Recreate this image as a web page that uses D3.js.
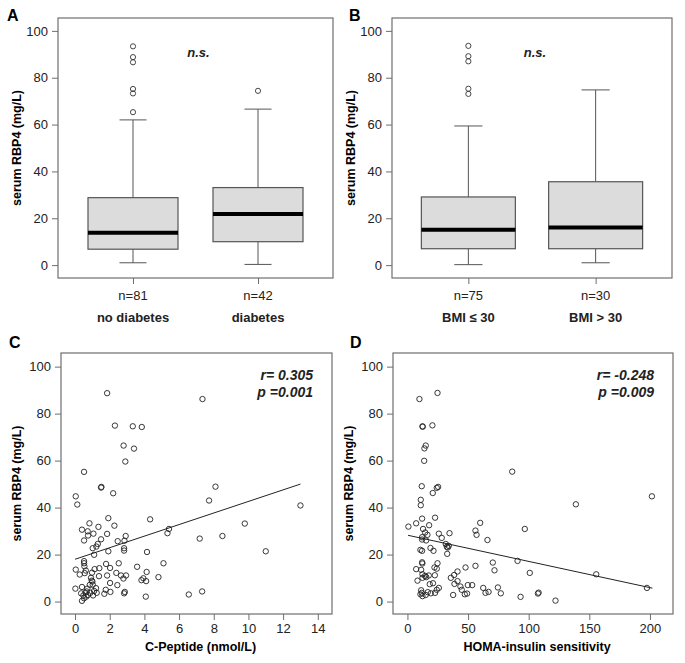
<!DOCTYPE html>
<meta charset="utf-8">
<style>
  body { margin: 0; background: #fff; }
  svg { font-family: "Liberation Sans", Arial, sans-serif; }
  .frame { fill: none; stroke: #6e6e6e; stroke-width: 1.2; }
  .tick line { stroke: #6e6e6e; }
  .lbl { font-size: 13px; fill: #222; }
  .bold { font-weight: bold; }
</style>
<script src="https://d3js.org/d3.v7.min.js"></script>
<body>
<script>

// box plot stats: [low whisker, Q1, median, Q3, high whisker]
var groupsA = ["no diabetes", "diabetes"];
var countsA = ["n=81", "n=42"];
var statsA = [[1.0, 6.8, 13.8, 28.8, 62.0], [0.3, 10.0, 21.8, 33.1, 66.6]];
var outliersA = [[65.3, 73.3, 75.2, 86.6, 88.8, 93.4], [74.4]];

var groupsB = ["BMI \u2264 30", "BMI > 30"];
var countsB = ["n=75", "n=30"];
var statsB = [[0.2, 7.0, 15.1, 29.1, 59.4], [1.0, 7.0, 16.1, 35.6, 74.8]];
var outliersB = [[73.1, 75.3, 87.0, 89.2, 93.6], []];

var yTicks = [0, 20, 40, 60, 80, 100];

// C-peptide vs RBP4
var cX = [1.85, 7.35, 2.3, 3.33, 3.85, 2.8, 3.4, 2.9, 0.52, 1.52, 1.5, 8.1, 2.2, 0.04, 0.13, 7.73, 13.0,
  4.33, 1.92, 9.79, 0.83, 1.35, 2.27, 0.4, 0.73, 5.42, 5.33, 1.06, 1.85, 2.92, 0.75, 7.19, 8.5, 0.52,
  1.5, 2.46, 2.85, 1.31, 1.23, 1.02, 2.83, 2.83, 1.92, 4.15, 11.0, 1.1, 0.52, 0.52, 1.79, 2.52, 0.54,
  5.1, 0.04, 0.62, 1.13, 1.4, 2.02, 3.58, 0.27, 0.56, 0.98, 1.85, 1.38, 2.38, 2.65, 2.94, 4.13, 0.92,
  0.96, 2.79, 3.83, 4.1, 3.94, 4.81, 2.02, 0.85, 1.02, 2.44, 0.02, 0.4, 0.71, 1.21, 1.77, 1.1, 0.67,
  2.04, 0.35, 0.6, 0.88, 1.25, 1.69, 2.83, 2.87, 6.56, 7.33, 0.48, 0.75, 1.04, 4.08, 0.4, 0.65, 0.52, 1.0];
var cY = [88.7, 86.2, 74.9, 74.6, 74.3, 66.4, 65.1, 59.6, 55.2, 48.8, 48.5, 48.9, 46.1, 44.8, 41.3, 43.0, 40.9,
  35.0, 35.5, 33.2, 33.3, 31.8, 32.3, 30.6, 29.9, 30.9, 29.1, 28.9, 28.8, 27.9, 28.1, 26.8, 27.9, 26.0,
  26.5, 25.7, 25.9, 24.5, 23.4, 22.7, 22.7, 21.7, 21.4, 21.1, 21.4, 19.9, 17.2, 16.3, 16.0, 16.3, 15.0,
  16.3, 13.6, 13.2, 13.8, 14.2, 14.3, 14.8, 11.5, 12.1, 12.3, 11.1, 10.8, 12.2, 11.1, 11.1, 12.6, 10.1,
  8.9, 9.8, 9.1, 8.7, 9.9, 10.4, 7.9, 7.1, 7.2, 7.0, 5.5, 6.2, 5.5, 5.7, 5.0, 4.5, 4.3,
  4.1, 3.5, 3.8, 3.7, 3.7, 3.3, 3.5, 4.1, 3.0, 4.3, 2.6, 2.8, 2.6, 2.1, 0.3, 2.1, 1.4, 8.5];
var cFit = [[0, 18.0], [13, 50.0]];
var cTicks = [0, 2, 4, 6, 8, 10, 12, 14];

// HOMA-insulin sensitivity vs RBP4
var dX = [9.9, 24.8, 12.4, 12.6, 20.6, 15.1, 14.0, 13.8, 86.4, 11.8, 25.3, 24.2, 20.9, 201.6, 11.0, 11.0, 138.9,
  12.1, 22.8, 0.8, 7.2, 17.9, 60, 12.9, 96.8, 56.1, 57, 14.6, 25.9, 34.7, 16.5, 12.1, 28.3, 12.1, 15.4,
  66, 31.6, 34.1, 32.5, 33.3, 32.8, 19, 10.7, 12.1, 21.5, 90.8, 70.4, 12.1, 12.3, 24.8, 7.2, 11.3, 22.3,
  24.2, 71.8, 47.9, 56.1, 12.4, 14.6, 22.6, 41.3, 38.5, 100.9, 155.7, 8.3, 12.4, 15.5, 17.6, 18.4, 21.1,
  41.3, 35.8, 38.8, 43.7, 53.4, 49.8, 62.5, 74.6, 25.9, 24.2, 11.3, 11.8, 10.7, 16.8, 19.3, 22.8, 37.7,
  44.8, 47.3, 49.2, 64.4, 66.9, 77, 93.3, 107.6, 108.2, 122.1, 197.5, 12.4, 15.1];
var dY = [86.2, 88.8, 74.6, 74.4, 75.0, 66.4, 65.2, 59.9, 55.3, 49.1, 48.8, 48.4, 46.2, 44.8, 43.3, 41.0, 41.4,
  35.3, 35.7, 31.9, 33.3, 32.5, 33.5, 30.9, 30.9, 30.2, 28.4, 29.4, 28.9, 29.1, 28.4, 27.4, 27.1, 26.4, 26.0,
  26.2, 24.5, 23.7, 23.3, 23.0, 20.3, 22.8, 22.0, 21.6, 21.6, 17.3, 16.6, 16.7, 16.2, 16.3, 13.8, 13.5, 14.5,
  14.0, 13.3, 14.5, 15.2, 11.6, 10.9, 11.2, 12.8, 11.3, 12.2, 11.6, 8.9, 10.1, 10.4, 11.1, 7.4, 7.8,
  8.7, 10.1, 7.5, 6.4, 7.0, 7.0, 5.8, 6.0, 5.8, 5.0, 4.8, 3.7, 3.1, 4.0, 3.5, 3.7, 2.8,
  5.0, 3.1, 3.4, 3.7, 4.1, 3.5, 2.0, 3.4, 3.8, 0.4, 5.8, 2.3, 2.8];
var dFit = [[0.5, 28.2], [202, 5.7]];
var dTicks = [0, 50, 100, 150, 200];

var svg = d3.select("body").append("svg")
    .attr("width", 685)
    .attr("height", 663);

function panelLetter(t, x, y) {
  svg.append("text").attr("x", x).attr("y", y)
    .attr("class", "bold").attr("font-size", 16).text(t);
}

function yAxis(y, left, titleX) {
  var g = svg.append("g").attr("transform", "translate(" + left + ",0)");
  g.call(d3.axisLeft(y).tickValues(yTicks).tickSize(6).tickPadding(4).tickSizeOuter(0));
  g.select(".domain").remove();
  g.selectAll(".tick text").attr("class", "lbl").attr("font-size", 13)
    .attr("font-family", "Liberation Sans, Arial, sans-serif");
  var mid = (y.range()[0] + y.range()[1]) / 2;
  svg.append("text")
    .attr("transform", "translate(" + titleX + "," + mid + ") rotate(-90)")
    .attr("text-anchor", "middle").attr("class", "bold")
    .attr("font-size", 12.5).text("serum RBP4 (mg/L)");
}

function frame(x0, x1, y0, y1) {
  svg.append("rect").attr("class", "frame")
    .attr("x", x0).attr("y", y0).attr("width", x1 - x0).attr("height", y1 - y0);
}

function boxPanel(opt) {
  var y = d3.scaleLinear().domain([-5.5, 105.5]).range([opt.bottom, opt.top]);
  var x = d3.scalePoint().domain(opt.groups).range([opt.left, opt.right]).padding(0.6);
  yAxis(y, opt.left, opt.left - 37);

  var xa = svg.append("g").attr("transform", "translate(0," + opt.bottom + ")")
    .call(d3.axisBottom(x).tickSize(6).tickFormat(""));
  xa.select(".domain").remove();

  opt.groups.forEach(function(g, i) {
    var s = opt.stats[i], cx = x(g), w = opt.boxW, cap = w * 0.15;
    var grp = svg.append("g");
    // whiskers
    grp.append("line").attr("x1", cx).attr("x2", cx).attr("y1", y(s[0])).attr("y2", y(s[1]))
      .attr("stroke", "#555");
    grp.append("line").attr("x1", cx).attr("x2", cx).attr("y1", y(s[3])).attr("y2", y(s[4]))
      .attr("stroke", "#555");
    grp.append("line").attr("x1", cx - cap).attr("x2", cx + cap).attr("y1", y(s[0])).attr("y2", y(s[0]))
      .attr("stroke", "#555");
    grp.append("line").attr("x1", cx - cap).attr("x2", cx + cap).attr("y1", y(s[4])).attr("y2", y(s[4]))
      .attr("stroke", "#555");
    grp.append("rect").attr("x", cx - w / 2).attr("width", w)
      .attr("y", y(s[3])).attr("height", y(s[1]) - y(s[3]))
      .attr("fill", "#dcdcdc").attr("stroke", "#555").attr("stroke-width", 1.2);
    grp.append("line").attr("x1", cx - w / 2).attr("x2", cx + w / 2).attr("y1", y(s[2])).attr("y2", y(s[2]))
      .attr("stroke", "#000").attr("stroke-width", 4);
    grp.selectAll("circle").data(opt.outliers[i]).enter().append("circle")
      .attr("cx", cx).attr("cy", function(d) { return y(d); }).attr("r", 2.6)
      .attr("fill", "none").attr("stroke", "#333").attr("stroke-width", 0.9);

    svg.append("text").attr("x", cx).attr("y", opt.bottom + 22).attr("text-anchor", "middle")
      .attr("class", "lbl").text(opt.counts[i]);
    svg.append("text").attr("x", cx).attr("y", opt.bottom + 44).attr("text-anchor", "middle")
      .attr("class", "lbl bold").text(g);
  });

  svg.append("text").attr("x", (opt.left + opt.right) / 2 + 3).attr("y", opt.top + 39)
    .attr("text-anchor", "middle").attr("font-size", 13).attr("font-weight", "bold")
    .attr("font-style", "italic").attr("fill", "#222").text("n.s.");

  frame(opt.left, opt.right, opt.top, opt.bottom);
}

function scatterPanel(opt) {
  var y = d3.scaleLinear().domain([-5.3, 105.8]).range([opt.bottom, opt.top]);
  var x = d3.scaleLinear().domain(opt.xDomain).range([opt.left, opt.right]);
  yAxis(y, opt.left, opt.left - 40);

  var xa = svg.append("g").attr("transform", "translate(0," + opt.bottom + ")")
    .call(d3.axisBottom(x).tickValues(opt.ticks).tickSize(6).tickPadding(4).tickSizeOuter(0));
  xa.select(".domain").remove();
  xa.selectAll(".tick text").attr("class", "lbl").attr("font-size", 13)
    .attr("font-family", "Liberation Sans, Arial, sans-serif");

  svg.append("text").attr("x", (opt.left + opt.right) / 2 + 4).attr("y", opt.bottom + 37)
    .attr("text-anchor", "middle").attr("class", "bold").attr("font-size", 12.5).text(opt.xTitle);

  svg.append("g").selectAll("circle").data(opt.xs).enter().append("circle")
    .attr("cx", function(d) { return x(d); })
    .attr("cy", function(d, i) { return y(opt.ys[i]); })
    .attr("r", 2.7).attr("fill", "none").attr("stroke", "#222").attr("stroke-width", 0.9);

  svg.append("path").datum(opt.fit)
    .attr("d", d3.line().x(function(d) { return x(d[0]); }).y(function(d) { return y(d[1]); }))
    .attr("stroke", "#222").attr("stroke-width", 1).attr("fill", "none");

  opt.stat.forEach(function(t, i) {
    svg.append("text").attr("x", opt.right - 19).attr("y", opt.top + 27 + i * 17)
      .attr("text-anchor", "end").attr("font-size", 14).attr("font-weight", "bold")
      .attr("font-style", "italic").attr("fill", "#222").text(t);
  });

  frame(opt.left, opt.right, opt.top, opt.bottom);
}

panelLetter("A", 7, 21);
boxPanel({ left: 58, right: 333, top: 18, bottom: 278, boxW: 90,
  groups: groupsA, counts: countsA, stats: statsA, outliers: outliersA });

panelLetter("B", 349, 21);
boxPanel({ left: 392, right: 672, top: 18, bottom: 278, boxW: 94,
  groups: groupsB, counts: countsB, stats: statsB, outliers: outliersB });

panelLetter("C", 9, 348);
scatterPanel({ left: 61, right: 332, top: 353, bottom: 614, xDomain: [-0.81, 14.82],
  ticks: cTicks, xs: cX, ys: cY, fit: cFit, xTitle: "C-Peptide (nmol/L)",
  stat: ["r= 0.305", "p =0.001"] });

panelLetter("D", 350, 348);
scatterPanel({ left: 393, right: 673, top: 353, bottom: 614, xDomain: [-11.9, 219],
  ticks: dTicks, xs: dX, ys: dY, fit: dFit, xTitle: "HOMA-insulin sensitivity",
  stat: ["r= -0.248", "p =0.009"] });

</script>
</body>
